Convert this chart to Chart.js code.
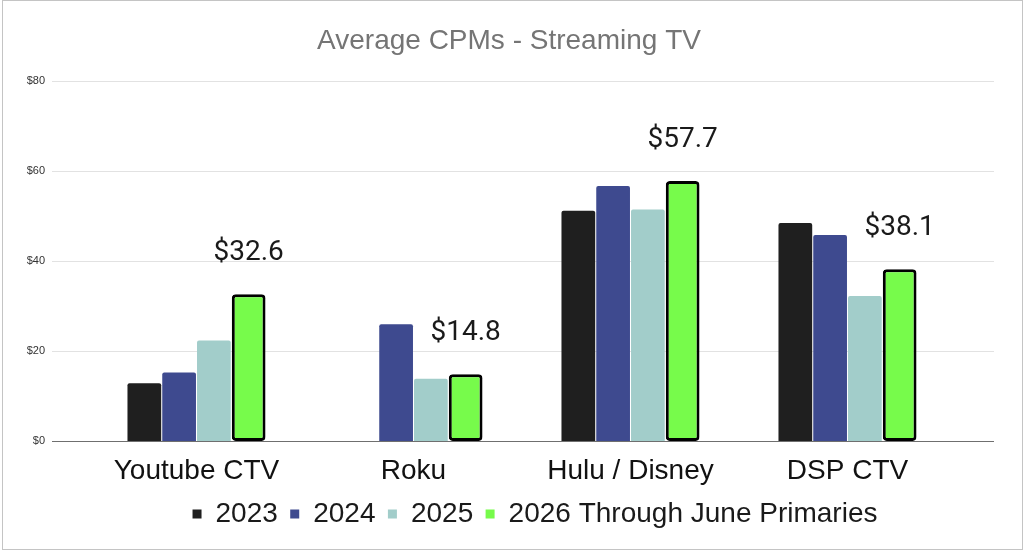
<!DOCTYPE html>
<html>
<head>
<meta charset="utf-8">
<script src="https://cdn.jsdelivr.net/npm/chart.js@4.4.1/dist/chart.umd.min.js"></script>
<style>
  html, body { margin: 0; padding: 0; background: #fff; }
  #wrap { width: 1024px; height: 551px; position: relative; }
</style>
</head>
<body>
<div id="wrap"><canvas id="cpm-chart"></canvas></div>
<script>
// values
const categories = ['Youtube CTV', 'Roku', 'Hulu / Disney', 'DSP CTV']
const series_names = ['2023', '2024', '2025', '2026 Through June Primaries']
const cpm_2023 = [12.8, null, 51.1, 48.4]
const cpm_2024 = [15.2, 25.9, 56.6, 45.7]
const cpm_2025 = [22.3, 13.8, 51.4, 32.2]
const cpm_2026 = [32.6, 14.8, 57.7, 38.1]
const y_ticks = [0, 20, 40, 60, 80]

// background + thin frame round the whole picture
const frame_plugin = {
  id: 'frame',
  beforeDraw(chart) {
    let ctx = chart.ctx
    ctx.save()
    ctx.fillStyle = '#ffffff'
    ctx.fillRect(0, 0, chart.width, chart.height)
    ctx.strokeStyle = '#c4c4c4'
    ctx.lineWidth = 1
    ctx.strokeRect(2.5, 0.5, chart.width - 4, chart.height - 2)
    ctx.restore()
  }
}

// title and legend sit a bit right of the canvas centre in the original
const shift_plugin = {
  id: 'shiftBoxes',
  afterLayout(chart) {
    if (chart.titleBlock) {
      chart.titleBlock.left += 31
      chart.titleBlock.right += 31
    }
    if (chart.legend) {
      chart.legend.left += 57
      chart.legend.right += 57
    }
  }
}

// grid lines run wider than the bar area in the original
const grid_plugin = {
  id: 'wideGrid',
  beforeDatasetsDraw(chart) {
    let ctx = chart.ctx
    let y = chart.scales.y
    let left = chart.chartArea.left - 36
    let right = chart.chartArea.right + 38
    ctx.save()
    y_ticks.forEach(v => {
      let py = Math.round(y.getPixelForValue(v)) + 0.5
      ctx.strokeStyle = v === 0 ? '#6f6f6f' : '#e2e2e2'
      ctx.lineWidth = v === 0 ? 1.2 : 1
      ctx.beginPath()
      ctx.moveTo(left, py)
      ctx.lineTo(right, py)
      ctx.stroke()
    })
    ctx.restore()
  }
}

// "$xx.x" over the 2026 bars
const value_label_plugin = {
  id: 'valueLabels',
  afterDatasetsDraw(chart) {
    let ctx = chart.ctx
    let meta = chart.getDatasetMeta(3)
    ctx.save()
    ctx.font = '28px Roboto, "Liberation Sans", sans-serif'
    ctx.fillStyle = '#1a1a1a'
    ctx.textAlign = 'center'
    ctx.textBaseline = 'alphabetic'
    meta.data.forEach((bar, i) => {
      if (cpm_2026[i] == null) return
      ctx.fillText('$' + cpm_2026[i].toFixed(1), bar.x, bar.y - 34)
    })
    ctx.restore()
  }
}

let chart = new Chart(document.querySelector('#cpm-chart'), {
  type: 'bar',
  data: {
    labels: categories,
    datasets: [{
      label: series_names[0],
      data: cpm_2023,
      backgroundColor: '#1f1f1f',
      borderRadius: 2,
      borderWidth: 0
    }, {
      label: series_names[1],
      data: cpm_2024,
      backgroundColor: '#3e4a8f',
      borderRadius: 2,
      borderWidth: 0
    }, {
      label: series_names[2],
      data: cpm_2025,
      backgroundColor: '#a2cdca',
      borderRadius: 2,
      borderWidth: 0
    }, {
      label: series_names[3],
      data: cpm_2026,
      backgroundColor: '#77fb4b',
      borderColor: '#000000',
      borderWidth: 3,
      borderRadius: 4,
      borderSkipped: false
    }]
  },
  options: {
    responsive: true,
    maintainAspectRatio: false,
    animation: false,
    devicePixelRatio: 1,
    datasets: {
      bar: { categoryPercentage: 0.641, barPercentage: 0.97 }
    },
    layout: {
      padding: { left: 0, right: 68, top: 0, bottom: 13 }
    },
    plugins: {
      title: {
        display: true,
        text: 'Average CPMs - Streaming TV',
        color: '#757575',
        font: { family: '"Liberation Sans", Arial, sans-serif', size: 28, weight: 'normal' },
        padding: { top: 24, bottom: 23 }
      },
      legend: {
        position: 'bottom',
        labels: {
          color: '#1a1a1a',
          font: { family: '"Liberation Sans", Arial, sans-serif', size: 28 },
          boxWidth: 9,
          boxHeight: 9,
          padding: 12.4,
          // plain swatches, no bar outline in the legend
          generateLabels: (c) => Chart.defaults.plugins.legend.labels.generateLabels(c)
            .map(item => ({ ...item, lineWidth: 0 }))
        }
      },
      tooltip: { enabled: false }
    },
    scales: {
      x: {
        afterFit: (scale) => { scale.height = 46.6 },
        grid: { display: false, drawTicks: false },
        border: { display: false },
        ticks: {
          color: '#111111',
          font: { family: '"Liberation Sans", Arial, sans-serif', size: 28 },
          padding: 13
        }
      },
      y: {
        min: 0,
        max: 80,
        afterFit: (scale) => { scale.width = 88 },
        grid: { display: false, drawTicks: false },
        border: { display: false },
        ticks: {
          stepSize: 20,
          color: '#333333',
          font: { family: '"Liberation Sans", Arial, sans-serif', size: 11 },
          padding: 43,
          callback: (v) => '$' + v
        }
      }
    }
  },
  plugins: [frame_plugin, shift_plugin, grid_plugin, value_label_plugin]
})
</script>
</body>
</html>
